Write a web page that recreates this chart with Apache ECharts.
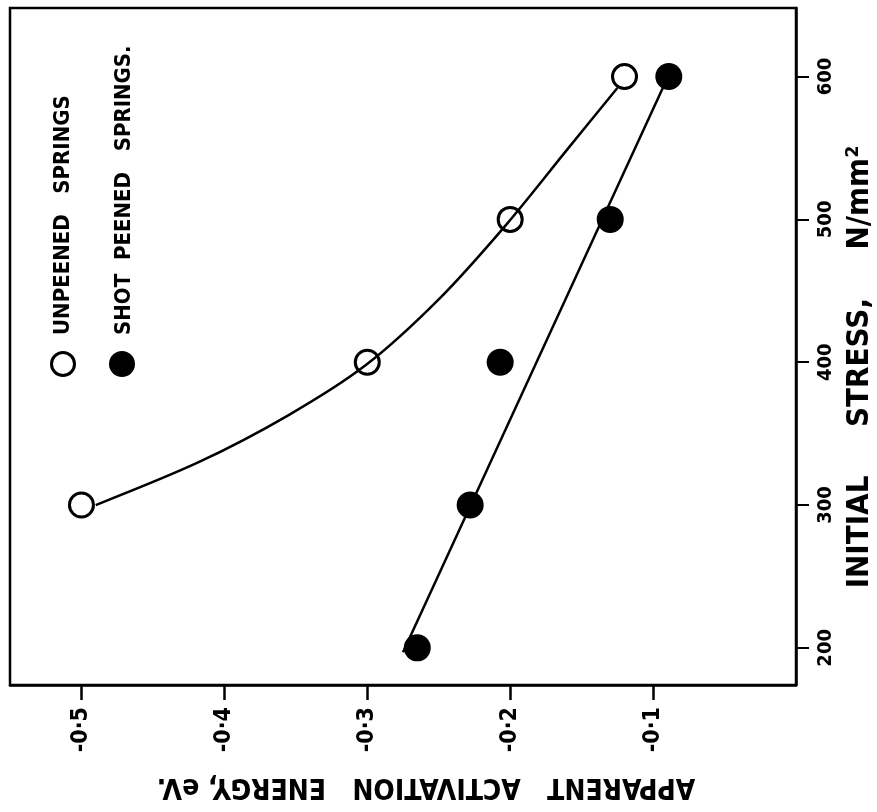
<!DOCTYPE html>
<html>
<head>
<meta charset="utf-8">
<script src="https://cdn.jsdelivr.net/npm/echarts@6/dist/echarts.min.js"></script>
<style>
html,body{margin:0;padding:0;background:#fff;}
#chart{width:877px;height:812px;}
</style>
</head>
<body>
<div id="chart"></div>
<script>
// ---- data ----
var energyTicks = [-0.5, -0.4, -0.3, -0.2, -0.1];
var stressTicks = [200, 300, 400, 500, 600];
var unpeenedStress = [300, 400, 500, 600];
var unpeenedEnergy = [-0.50, -0.30, -0.20, -0.12];
var peenedStress = [200, 300, 400, 500, 600];
var peenedEnergy = [-0.265, -0.228, -0.207, -0.130, -0.089];
// fitted curves as drawn on the original
var unpeenedCurveEnergy = [-0.490, -0.418, -0.355, -0.301, -0.250, -0.203, -0.160, -0.125];
var unpeenedCurveStress = [300, 330, 363, 398, 444, 496, 549, 592];
var peenedLineEnergy = [-0.275, -0.090];
var peenedLineStress = [197, 599];

function pairs(xs, ys){ return xs.map(function(x,i){ return [x, ys[i]]; }); }

var FONT = '"DejaVu Sans Condensed", "DejaVu Sans", sans-serif';
var chart = echarts.init(document.getElementById('chart'));
chart.setOption({
  animation: false,
  backgroundColor: '#fff',
  grid: {left: 10, right: 81, top: 8, bottom: 127, show: true, borderColor: '#000', borderWidth: 2.5},
  xAxis: {
    type: 'value', min: -0.55, max: 0, position: 'bottom',
    axisLine: {show: true, lineStyle: {color: '#000', width: 2.5}},
    axisTick: {show: true, customValues: energyTicks, length: 15, lineStyle: {color: '#000', width: 2.5}},
    axisLabel: {customValues: energyTicks, rotate: 90, margin: 22, color: '#000', fontFamily: FONT, fontWeight: 'bold', fontSize: 23,
      formatter: function(v){ return '-0·' + Math.round(Math.abs(v)*10); }},
    splitLine: {show: false}
  },
  yAxis: {
    type: 'value', min: 174, max: 648, position: 'right',
    axisLine: {show: true, lineStyle: {color: '#000', width: 2.5}},
    axisTick: {show: true, customValues: stressTicks, length: 13, lineStyle: {color: '#000', width: 2}},
    axisLabel: {customValues: stressTicks, rotate: 90, margin: 20, color: '#000', fontFamily: FONT, fontWeight: 'bold', fontSize: 20},
    splitLine: {show: false}
  },
  series: [
    {type: 'line', data: pairs(unpeenedCurveEnergy, unpeenedCurveStress), smooth: 0.3, showSymbol: false, silent: true,
      lineStyle: {color: '#000', width: 2.5}, z: 2},
    {type: 'line', data: pairs(peenedLineEnergy, peenedLineStress), showSymbol: false, silent: true,
      lineStyle: {color: '#000', width: 2.5}, z: 2},
    {name: 'UNPEENED SPRINGS', type: 'scatter', data: pairs(unpeenedEnergy, unpeenedStress), symbol: 'circle', symbolSize: 24,
      itemStyle: {color: 'rgba(0,0,0,0)', borderColor: '#000', borderWidth: 3, opacity: 1}, z: 3},
    {name: 'SHOT PEENED SPRINGS.', type: 'scatter', data: pairs(peenedEnergy, peenedStress), symbol: 'circle', symbolSize: 27,
      itemStyle: {color: '#000', opacity: 1}, z: 3}
  ],
  graphic: [
    {type: 'text', x: 426, y: 786, rotation: Math.PI, style: {text: 'APPARENT   ACTIVATION   ENERGY, eV.', fill: '#000',
      font: 'bold 28px ' + FONT, align: 'center', verticalAlign: 'middle'}},
    {type: 'text', x: 860, y: 367, rotation: Math.PI/2, style: {text: 'INITIAL     STRESS,     N/mm²', fill: '#000',
      font: 'bold 31px ' + FONT, align: 'center', verticalAlign: 'middle'}},
    {type: 'circle', shape: {cx: 63, cy: 364, r: 11.5}, style: {fill: 'none', stroke: '#000', lineWidth: 3}},
    {type: 'circle', shape: {cx: 122, cy: 364, r: 13}, style: {fill: '#000'}},
    {type: 'text', x: 63, y: 335, rotation: Math.PI/2, style: {text: 'UNPEENED   SPRINGS', fill: '#000',
      font: 'bold 22px ' + FONT, align: 'left', verticalAlign: 'middle'}},
    {type: 'text', x: 124, y: 335, rotation: Math.PI/2, style: {text: 'SHOT  PEENED   SPRINGS.', fill: '#000',
      font: 'bold 22px ' + FONT, align: 'left', verticalAlign: 'middle'}}
  ]
});
</script>
</body>
</html>
